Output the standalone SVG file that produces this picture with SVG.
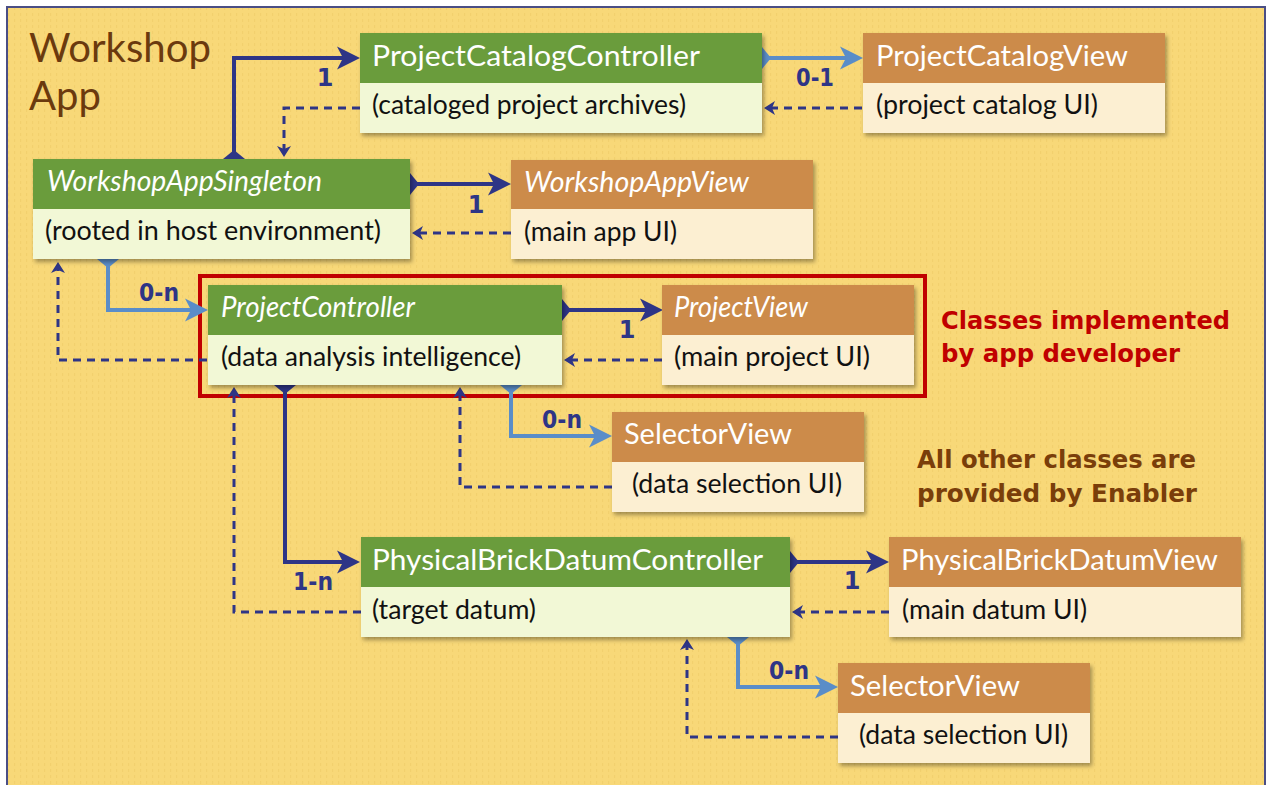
<svg xmlns="http://www.w3.org/2000/svg" width="1268" height="785" viewBox="0 0 1268 785">
<style>
.hd{fill:#6A9C3C}
.hv{fill:#CC8B4A}
.bd{fill:#F2F8D6}
.bv{fill:#FCEFD2}
.ht{font-family:Lato,"Open Sans",sans-serif;font-size:28px;fill:#FFFFFF}
.it{font-style:italic}
.bt{font-family:Lato,"Open Sans",sans-serif;font-size:27px;fill:#111111}
.lbl{font-family:"DejaVu Sans",sans-serif;font-weight:bold;font-size:24px;fill:#2E3586;text-anchor:middle}
.sol{fill:none;stroke:#2E3586;stroke-width:4}
.blu{fill:none;stroke:#5A8DC8;stroke-width:4}
.dsh{fill:none;stroke:#2E3586;stroke-width:3;stroke-dasharray:8 6}
</style>
<defs>
<pattern id="dots" width="6" height="6" patternUnits="userSpaceOnUse">
<rect x="2" y="1" width="1.2" height="3" fill="#EFCB68" opacity="0.6"/>
</pattern>
<filter id="sh" x="-5%" y="-5%" width="115%" height="125%">
<feDropShadow dx="2" dy="3" stdDeviation="2" flood-color="#000" flood-opacity="0.35"/>
</filter>
<marker id="aN" markerUnits="userSpaceOnUse" markerWidth="24" markerHeight="24" viewBox="0 0 24 24" refX="14" refY="12" orient="auto">
<path d="M0,0.5 L23,12 L0,23.5 L6,12 Z" fill="#2E3586"/>
</marker>
<marker id="aB" markerUnits="userSpaceOnUse" markerWidth="24" markerHeight="24" viewBox="0 0 24 24" refX="14" refY="12" orient="auto">
<path d="M0,0.5 L23,12 L0,23.5 L6,12 Z" fill="#5A8DC8"/>
</marker>
<marker id="aD" markerUnits="userSpaceOnUse" markerWidth="12" markerHeight="14" viewBox="0 0 12 14" refX="6" refY="7" orient="auto">
<path d="M0,0 L11,7 L0,14 L3,7 Z" fill="#2E3586"/>
</marker>
<marker id="fN" markerUnits="userSpaceOnUse" markerWidth="10" markerHeight="22" viewBox="0 0 10 22" refX="0" refY="11" orient="auto">
<path d="M0,0 L9,11 L0,22 Z" fill="#2E3586"/>
</marker>
<marker id="fB" markerUnits="userSpaceOnUse" markerWidth="10" markerHeight="22" viewBox="0 0 10 22" refX="0" refY="11" orient="auto">
<path d="M0,0 L9,11 L0,22 Z" fill="#5A8DC8"/>
</marker>
</defs>

<rect x="0" y="0" width="1268" height="785" fill="#FFFFFF"/>
<rect x="7" y="7" width="1258" height="790" fill="#F8D878" stroke="#4A4E85" stroke-width="2"/>
<rect x="8" y="8" width="1256" height="777" fill="url(#dots)"/>

<g id="title">
<text x="29" y="62" font-family="Lato,'Open Sans',sans-serif" font-size="40" fill="#6B3A0E" textLength="182" lengthAdjust="spacingAndGlyphs">Workshop</text>
<text x="29" y="110" font-family="Lato,'Open Sans',sans-serif" font-size="40" fill="#6B3A0E">App</text>
</g>

<g id="developer-box">
<rect x="200" y="276" width="725" height="120" fill="none" stroke="#C00000" stroke-width="4"/>
</g>

<g id="connectors">
<path class="sol" d="M234,159 V58 H351" marker-start="url(#fN)" marker-end="url(#aN)"/>
<path class="blu" d="M762,58 H854" marker-start="url(#fB)" marker-end="url(#aB)"/>
<path class="dsh" d="M862,108 H769" marker-end="url(#aD)"/>
<path class="dsh" d="M360,108 H284 V152" marker-end="url(#aD)"/>
<path class="sol" d="M410,184 H502" marker-start="url(#fN)" marker-end="url(#aN)"/>
<path class="dsh" d="M511,233 H417" marker-end="url(#aD)"/>
<path class="blu" d="M108,259 V310 H199" marker-start="url(#fB)" marker-end="url(#aB)"/>
<path class="dsh" d="M207,360 H58 V267" marker-end="url(#aD)"/>
<path class="sol" d="M562,310 H654" marker-start="url(#fN)" marker-end="url(#aN)"/>
<path class="dsh" d="M662,360 H569" marker-end="url(#aD)"/>
<path class="blu" d="M511,385 V436 H603" marker-start="url(#fB)" marker-end="url(#aB)"/>
<path class="dsh" d="M612,487 H460 V392" marker-end="url(#aD)"/>
<path class="sol" d="M285,385 V562 H351" marker-start="url(#fN)" marker-end="url(#aN)"/>
<path class="dsh" d="M361,612 H234 V392" marker-end="url(#aD)"/>
<path class="sol" d="M790,562 H880" marker-start="url(#fN)" marker-end="url(#aN)"/>
<path class="dsh" d="M889,612 H797" marker-end="url(#aD)"/>
<path class="blu" d="M738,637 V687 H829" marker-start="url(#fB)" marker-end="url(#aB)"/>
<path class="dsh" d="M838,737 H687 V644" marker-end="url(#aD)"/>
<text class="lbl" x="325" y="86">1</text>
<text class="lbl" x="815" y="86" textLength="38" lengthAdjust="spacingAndGlyphs">0-1</text>
<text class="lbl" x="476" y="213">1</text>
<text class="lbl" x="159" y="301" textLength="40" lengthAdjust="spacingAndGlyphs">0-n</text>
<text class="lbl" x="627" y="338">1</text>
<text class="lbl" x="562" y="428" textLength="40" lengthAdjust="spacingAndGlyphs">0-n</text>
<text class="lbl" x="313" y="590" textLength="40" lengthAdjust="spacingAndGlyphs">1-n</text>
<text class="lbl" x="852" y="589">1</text>
<text class="lbl" x="789" y="679" textLength="40" lengthAdjust="spacingAndGlyphs">0-n</text>
</g>

<g id="ProjectCatalogController">
<rect x="360" y="33" width="402" height="100" class="bd" filter="url(#sh)"/>
<rect x="360" y="33" width="402" height="50" class="hd"/>
<text class="ht" x="372" y="66" textLength="328" lengthAdjust="spacingAndGlyphs">ProjectCatalogController</text>
<text class="bt" x="372" y="114" textLength="314" lengthAdjust="spacingAndGlyphs">(cataloged project archives)</text>
</g>

<g id="ProjectCatalogView">
<rect x="863" y="33" width="302" height="100" class="bv" filter="url(#sh)"/>
<rect x="863" y="33" width="302" height="50" class="hv"/>
<text class="ht" x="876" y="66" textLength="252" lengthAdjust="spacingAndGlyphs">ProjectCatalogView</text>
<text class="bt" x="876" y="114" textLength="222" lengthAdjust="spacingAndGlyphs">(project catalog UI)</text>
</g>

<g id="WorkshopAppSingleton">
<rect x="33" y="159" width="377" height="100" class="bd" filter="url(#sh)"/>
<rect x="33" y="159" width="377" height="50" class="hd"/>
<text class="ht it" x="47" y="191" textLength="275" lengthAdjust="spacingAndGlyphs">WorkshopAppSingleton</text>
<text class="bt" x="45" y="240" textLength="336" lengthAdjust="spacingAndGlyphs">(rooted in host environment)</text>
</g>

<g id="WorkshopAppView">
<rect x="511" y="160" width="302" height="99" class="bv" filter="url(#sh)"/>
<rect x="511" y="160" width="302" height="49" class="hv"/>
<text class="ht it" x="524" y="192" textLength="225" lengthAdjust="spacingAndGlyphs">WorkshopAppView</text>
<text class="bt" x="524" y="241" textLength="153" lengthAdjust="spacingAndGlyphs">(main app UI)</text>
</g>

<g id="ProjectController">
<rect x="208" y="285" width="354" height="100" class="bd" filter="url(#sh)"/>
<rect x="208" y="285" width="354" height="50" class="hd"/>
<text class="ht it" x="221" y="317" textLength="194" lengthAdjust="spacingAndGlyphs">ProjectController</text>
<text class="bt" x="221" y="366" textLength="300" lengthAdjust="spacingAndGlyphs">(data analysis intelligence)</text>
</g>

<g id="ProjectView">
<rect x="662" y="285" width="252" height="100" class="bv" filter="url(#sh)"/>
<rect x="662" y="285" width="252" height="50" class="hv"/>
<text class="ht it" x="674" y="317" textLength="134" lengthAdjust="spacingAndGlyphs">ProjectView</text>
<text class="bt" x="674" y="366" textLength="196" lengthAdjust="spacingAndGlyphs">(main project UI)</text>
</g>

<g id="SelectorView1">
<rect x="612" y="412" width="252" height="100" class="bv" filter="url(#sh)"/>
<rect x="612" y="412" width="252" height="50" class="hv"/>
<text class="ht" x="624" y="444" textLength="168" lengthAdjust="spacingAndGlyphs">SelectorView</text>
<text class="bt" x="632" y="493" textLength="210" lengthAdjust="spacingAndGlyphs">(data selection UI)</text>
</g>

<g id="PhysicalBrickDatumController">
<rect x="361" y="537" width="429" height="100" class="bd" filter="url(#sh)"/>
<rect x="361" y="537" width="429" height="50" class="hd"/>
<text class="ht" x="372" y="570" textLength="391" lengthAdjust="spacingAndGlyphs">PhysicalBrickDatumController</text>
<text class="bt" x="372" y="619" textLength="164" lengthAdjust="spacingAndGlyphs">(target datum)</text>
</g>

<g id="PhysicalBrickDatumView">
<rect x="889" y="537" width="352" height="100" class="bv" filter="url(#sh)"/>
<rect x="889" y="537" width="352" height="50" class="hv"/>
<text class="ht" x="901" y="570" textLength="317" lengthAdjust="spacingAndGlyphs">PhysicalBrickDatumView</text>
<text class="bt" x="902" y="619" textLength="185" lengthAdjust="spacingAndGlyphs">(main datum UI)</text>
</g>

<g id="SelectorView2">
<rect x="838" y="663" width="252" height="100" class="bv" filter="url(#sh)"/>
<rect x="838" y="663" width="252" height="50" class="hv"/>
<text class="ht" x="850" y="696" textLength="170" lengthAdjust="spacingAndGlyphs">SelectorView</text>
<text class="bt" x="859" y="744" textLength="209" lengthAdjust="spacingAndGlyphs">(data selection UI)</text>
</g>

<g id="notes">
<text x="941" y="329" font-family="'DejaVu Sans',sans-serif" font-weight="bold" font-size="25" fill="#C00000" textLength="289" lengthAdjust="spacingAndGlyphs">Classes implemented</text>
<text x="941" y="362" font-family="'DejaVu Sans',sans-serif" font-weight="bold" font-size="25" fill="#C00000" textLength="239" lengthAdjust="spacingAndGlyphs">by app developer</text>
<text x="917" y="468" font-family="'DejaVu Sans',sans-serif" font-weight="bold" font-size="25" fill="#7A3E0A" textLength="279" lengthAdjust="spacingAndGlyphs">All other classes are</text>
<text x="917" y="502" font-family="'DejaVu Sans',sans-serif" font-weight="bold" font-size="25" fill="#7A3E0A" textLength="280" lengthAdjust="spacingAndGlyphs">provided by Enabler</text>
</g>
</svg>
